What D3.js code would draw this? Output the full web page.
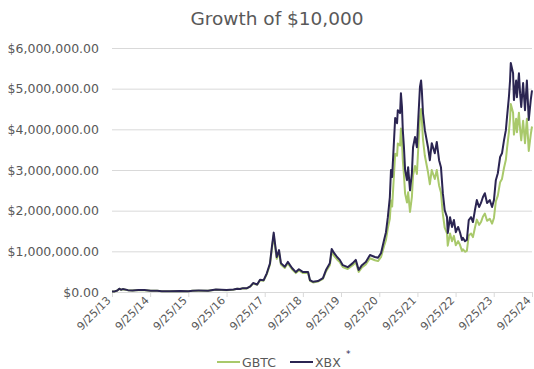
<!DOCTYPE html>
<html><head><meta charset="utf-8">
<script src="https://cdn.jsdelivr.net/npm/d3@7"></script>
<style>body{margin:0;background:#fff} svg{display:block}</style>
</head><body><svg id="c" width="534" height="369"></svg>
<script>
const dates = ["2013-09-25","2013-10-20","2013-11-15","2013-12-04","2013-12-20","2014-01-06","2014-02-25","2014-04-10","2014-06-05","2014-08-01","2014-10-01","2014-12-01","2015-01-15","2015-04-01","2015-07-10","2015-09-25","2015-11-05","2016-01-01","2016-04-01","2016-06-15","2016-09-25","2016-12-01","2017-01-05","2017-02-01","2017-03-01","2017-04-05","2017-05-10","2017-06-06","2017-07-15","2017-08-11","2017-09-15","2017-10-15","2017-11-14","2017-12-02","2017-12-20","2018-01-01","2018-01-18","2018-02-09","2018-02-27","2018-04-05","2018-05-04","2018-06-13","2018-07-20","2018-08-18","2018-09-27","2018-11-14","2018-12-02","2019-01-01","2019-02-16","2019-04-05","2019-05-04","2019-06-10","2019-06-28","2019-07-20","2019-08-18","2019-09-13","2019-10-12","2019-11-28","2020-01-15","2020-02-13","2020-03-12","2020-04-12","2020-05-19","2020-06-28","2020-08-14","2020-09-13","2020-10-12","2020-11-10","2020-11-28","2020-12-16","2021-01-04","2021-01-15","2021-01-26","2021-02-13","2021-02-24","2021-03-14","2021-03-21","2021-04-12","2021-04-20","2021-04-30","2021-05-08","2021-05-19","2021-05-30","2021-06-17","2021-06-28","2021-07-16","2021-08-03","2021-08-14","2021-09-02","2021-09-20","2021-10-01","2021-10-19","2021-10-30","2021-11-06","2021-11-17","2021-12-05","2022-01-04","2022-01-22","2022-02-09","2022-03-10","2022-03-29","2022-04-20","2022-05-08","2022-05-26","2022-06-13","2022-07-05","2022-07-12","2022-08-03","2022-08-22","2022-09-09","2022-09-27","2022-10-19","2022-11-06","2022-11-25","2022-12-05","2022-12-24","2023-01-11","2023-01-29","2023-02-20","2023-03-10","2023-03-29","2023-04-16","2023-05-08","2023-05-26","2023-06-13","2023-07-02","2023-07-23","2023-08-18","2023-09-09","2023-09-27","2023-10-15","2023-11-03","2023-11-25","2023-12-13","2024-01-01","2024-01-19","2024-01-30","2024-02-17","2024-02-28","2024-03-06","2024-03-28","2024-04-05","2024-04-26","2024-05-04","2024-05-23","2024-06-03","2024-06-14","2024-07-02","2024-07-20","2024-08-07","2024-08-25","2024-09-13","2024-09-25"];

const xbx = [10000,14000,38000,82000,55000,72000,46000,36000,52000,47000,31000,30000,18000,20000,23000,19000,32000,34000,33000,60000,48000,60000,82000,76000,95000,90000,140000,220000,185000,300000,290000,460000,700000,1100000,1460000,1200000,860000,1030000,710000,620000,740000,590000,490000,560000,490000,490000,290000,250000,270000,340000,540000,710000,1060000,960000,860000,790000,660000,610000,710000,790000,540000,660000,740000,910000,860000,840000,960000,1280000,1470000,1840000,2330000,3000000,2830000,3730000,4280000,4150000,4470000,4400000,4890000,4550000,3980000,3560000,3000000,2750000,3070000,2500000,2920000,3560000,3810000,3560000,4150000,5040000,5200000,4960000,4400000,3980000,3560000,3240000,3660000,3410000,3690000,3240000,3070000,2430000,2010000,1840000,1450000,1840000,1600000,1770000,1470000,1600000,1470000,1280000,1330000,1250000,1280000,1770000,1840000,1720000,2010000,2260000,2090000,2190000,2330000,2430000,2190000,2260000,2090000,2260000,2750000,2920000,3320000,3410000,3730000,3980000,4300000,4790000,5200000,5630000,5380000,4720000,5200000,4790000,5380000,4890000,4550000,5140000,4470000,5200000,4230000,4720000,4960000];

const gbtc = [10000,13500,36000,78000,53000,69000,44000,35000,50000,45000,30000,29000,17000,19000,22000,18000,31000,33000,32000,58000,46000,58000,79000,73000,92000,87000,135000,210000,177000,288000,278000,440000,670000,1050000,1400000,1140000,815000,980000,675000,590000,705000,560000,465000,530000,465000,465000,275000,235000,255000,320000,505000,660000,980000,890000,800000,735000,615000,565000,660000,730000,495000,605000,675000,830000,780000,760000,860000,1130000,1280000,1570000,1800000,2250000,2100000,2900000,3400000,3350000,3650000,3600000,4020000,3720000,3250000,2880000,2420000,2200000,2450000,1970000,2340000,2870000,3100000,2900000,3450000,4300000,4500000,4250000,3750000,3350000,2950000,2650000,3000000,2780000,3000000,2620000,2450000,1920000,1580000,1440000,1140000,1440000,1250000,1380000,1150000,1250000,1160000,1010000,1050000,990000,1010000,1390000,1440000,1350000,1580000,1780000,1650000,1720000,1850000,1930000,1750000,1800000,1680000,1820000,2230000,2370000,2700000,2780000,3050000,3250000,3530000,3930000,4260000,4620000,4410000,3870000,4260000,3930000,4410000,4010000,3730000,4210000,3660000,4260000,3470000,3870000,4070000];

const xTickLabels = ["9/25/13","9/25/14","9/25/15","9/25/16","9/25/17","9/25/18","9/25/19","9/25/20","9/25/21","9/25/22","9/25/23","9/25/24"];
const yTickValues = [0,1000000,2000000,3000000,4000000,5000000,6000000];
const seriesNames = ["GBTC","XBX"];
const seriesColors = ["#a9c96b","#2b2552"];
const titleText = "Growth of $10,000";

const svg = d3.select("#c");
const parse = d3.timeParse("%Y-%m-%d");
const parseTick = d3.timeParse("%m/%d/%y");
const fmtTick = d3.timeFormat("%-m/%d/%y");
const fmtY = d3.format("$,.2f");
const font = "'DejaVu Sans', sans-serif";
const textColor = "#595959";

const mL = 112, mR = 532, mT = 48, mB = 292;
const x = d3.scaleTime().domain([parseTick(xTickLabels[0]), parseTick(xTickLabels[xTickLabels.length-1])]).range([mL, mR]);
const y = d3.scaleLinear().domain([0, 6000000]).range([mB, mT]);

// title
svg.append("text").attr("x", 277).attr("y", 25).attr("text-anchor","middle")
  .attr("font-family", font).attr("font-size", 18.5).attr("fill", textColor).text(titleText);

// gridlines + y labels
const yAxis = d3.axisLeft(y).tickValues(yTickValues).tickFormat(fmtY).tickSize(-(mR-mL)).tickPadding(13);
const gy = svg.append("g").attr("transform", `translate(${mL},0)`).call(yAxis);
gy.select(".domain").remove();
gy.selectAll(".tick line").attr("stroke", "#d9d9d9").attr("stroke-width", 1);
gy.selectAll(".tick text").attr("font-family", font).attr("font-size", 12.5).attr("fill", textColor);

// x axis
const xAxis = d3.axisBottom(x).tickValues(xTickLabels.map(parseTick)).tickFormat(fmtTick).tickSize(5).tickSizeOuter(0);
const gx = svg.append("g").attr("transform", `translate(0,${mB})`).call(xAxis);
gx.select(".domain").attr("stroke", "#d9d9d9");
gx.selectAll(".tick line").attr("stroke", "#d9d9d9");
gx.selectAll(".tick text").attr("font-family", font).attr("font-size", 11).attr("fill", textColor)
  .attr("text-anchor","end").attr("dy", null).attr("y", 0)
  .attr("transform", "translate(-1,9) rotate(-45)");

// lines
const pts = dates.map(parse);
const line = vals => d3.line().x((d,i)=>x(pts[i])).y(d=>y(d))(vals);
[gbtc, xbx].forEach((vals, k) => {
  svg.append("path").attr("d", line(vals)).attr("fill","none")
    .attr("stroke", seriesColors[k]).attr("stroke-width", 2).attr("stroke-linejoin","round");
});

// legend
const legendItems = [{x0:217, tx:242}, {x0:290, tx:315}];
seriesNames.forEach((name, k) => {
  const it = legendItems[k];
  svg.append("line").attr("x1", it.x0).attr("x2", it.x0+23).attr("y1", 362).attr("y2", 362)
    .attr("stroke", seriesColors[k]).attr("stroke-width", 2);
  svg.append("text").attr("x", it.tx).attr("y", 366.5).attr("font-family", font).attr("font-size", 12.5)
    .attr("fill", textColor).text(name);
});
svg.append("text").attr("x", 346).attr("y", 357).attr("font-family", font).attr("font-size", 9)
  .attr("fill", seriesColors[1]).text("*");
</script></body></html>
